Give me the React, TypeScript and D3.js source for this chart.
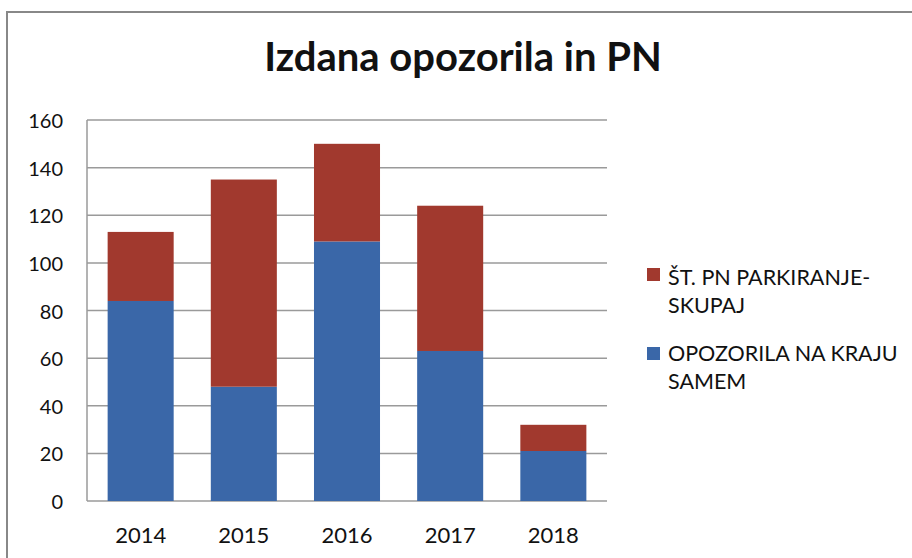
import React from "react";
import * as d3 from "d3";

const years = ["2014", "2015", "2016", "2017", "2018"];
const opozorilaNaKraju = [84, 48, 109, 63, 21];
const parkiranjeSkupaj = [29, 87, 41, 61, 11];
const yTicks = [0, 20, 40, 60, 80, 100, 120, 140, 160];
const title = "Izdana opozorila in PN";

const W = 912, H = 558;
const m = { left: 87, right: 607, top: 120, bottom: 501 };
const colors = ["#3A67A8", "#A1392E"];
const font = "Lato, 'Open Sans', sans-serif";

export default function App() {
  const x = d3.scaleBand().domain(years).range([m.left, m.right]).paddingInner(0.36).paddingOuter(0.2);
  const y = d3.scaleLinear().domain([0, 160]).range([m.bottom, m.top]);
  const rows = years.map((yr, i) => ({ year: yr, a: opozorilaNaKraju[i], b: parkiranjeSkupaj[i] }));
  const stack = d3.stack<any>().keys(["a", "b"])(rows);

  return (
    <svg width={W} height={H} style={{ position: "absolute", left: 0, top: 0, background: "#fff" }}>
      <rect x={0} y={0} width={W} height={H} fill="#fff" />
      <path d={`M7,${H} V12 H${W}`} fill="none" stroke="#888" strokeWidth={2} />
      <text x={463} y={71} textAnchor="middle" fontFamily={font} fontWeight={700} fontSize={40} fill="#111">{title}</text>
      {yTicks.map(t => (
        <g key={t}>
          <line x1={m.left} x2={m.right} y1={y(t)} y2={y(t)} stroke="#9a9a9a" strokeWidth={1.5} />
          <text x={63} y={y(t) + 8} textAnchor="end" fontFamily={font} fontSize={20} fill="#111">{t}</text>
        </g>
      ))}
      <line x1={m.left} x2={m.left} y1={m.top} y2={m.bottom} stroke="#9a9a9a" strokeWidth={1.5} />
      {stack.map((s, si) => (
        <g key={si} fill={colors[si]}>
          {s.map((d, i) => (
            <rect key={i} x={x(years[i])} width={x.bandwidth()} y={y(d[1])} height={y(d[0]) - y(d[1])} />
          ))}
        </g>
      ))}
      {years.map(yr => (
        <text key={yr} x={(x(yr) as number) + x.bandwidth() / 2} y={543} textAnchor="middle" fontFamily={font} fontSize={22} fill="#111">{yr}</text>
      ))}
      <g fontFamily={font} fontSize={21.5} fill="#111">
        <rect x={647} y={268} width={13} height={13} fill={colors[1]} />
        <text x={668} y={285}>ŠT. PN PARKIRANJE-</text>
        <text x={668} y={313}>SKUPAJ</text>
        <rect x={647} y={347} width={13} height={13} fill={colors[0]} />
        <text x={668} y={361}>OPOZORILA NA KRAJU</text>
        <text x={668} y={389}>SAMEM</text>
      </g>
    </svg>
  );
}
